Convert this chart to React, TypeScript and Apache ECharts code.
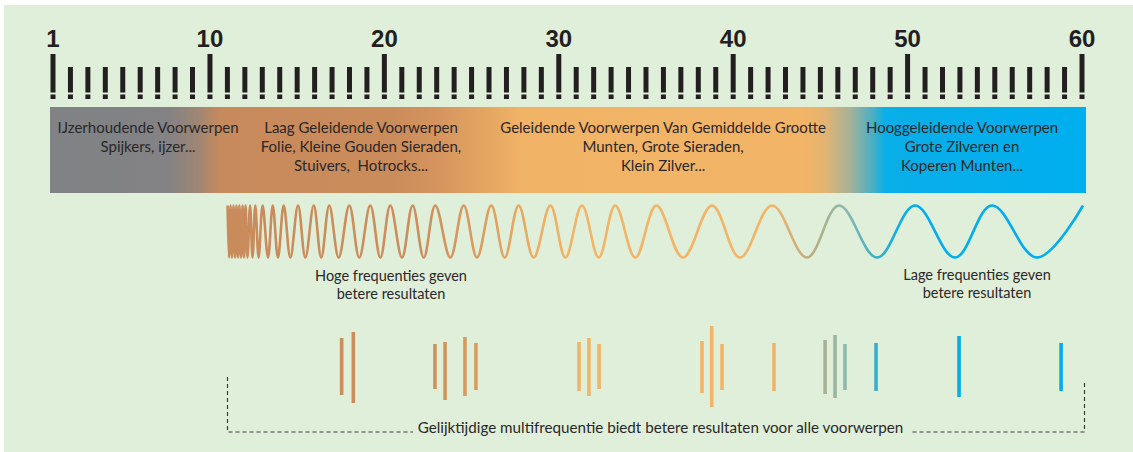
import React, { useEffect, useRef } from "react";
import * as echarts from "echarts";

// ---- data ----
const rulerTicks = [1, 2, 3, 4, 5, 6, 7, 8, 9, 10, 11, 12, 13, 14, 15, 16, 17, 18, 19, 20, 21, 22, 23, 24, 25, 26, 27, 28, 29, 30, 31, 32, 33, 34, 35, 36, 37, 38, 39, 40, 41, 42, 43, 44, 45, 46, 47, 48, 49, 50, 51, 52, 53, 54, 55, 56, 57, 58, 59, 60];
const rulerLabels = [1, 10, 20, 30, 40, 50, 60];

const bandRange = [0.83, 60.23];
const bandLabelX = [6.45, 18.66, 35.98, 53.12];
const bandLabelText = [
  "IJzerhoudende Voorwerpen\nSpijkers, ijzer...",
  "Laag Geleidende Voorwerpen\nFolie, Kleine Gouden Sieraden,\nStuivers,  Hotrocks...",
  "Geleidende Voorwerpen Van Gemiddelde Grootte\nMunten, Grote Sieraden,\nKlein Zilver...",
  "Hooggeleidende Voorwerpen\nGrote Zilveren en\nKoperen Munten...",
];

// wave extremes (ruler units) and their sign (+1 crest, -1 trough)
const waveX = [11.01, 11.09, 11.18, 11.26, 11.35, 11.44, 11.52, 11.61, 11.69, 11.78, 11.87, 11.95, 12.04, 12.15, 12.3, 12.44, 12.6, 12.79, 13.02, 13.33, 13.6, 13.9, 14.23, 14.61, 15.05, 15.47, 15.95, 16.38, 16.84, 17.38, 17.99, 18.56, 19.19, 19.77, 20.34, 21.01, 21.62, 22.26, 22.92, 23.78, 24.55, 25.31, 26.13, 26.9, 27.7, 28.56, 29.52, 30.38, 31.33, 32.29, 33.24, 34.39, 35.6, 37.12, 38.79, 40.39, 42.23, 44.23, 46.07, 48.25, 50.43, 52.72, 54.84, 57.42, 60.06];
const waveY = [1, -1, 1, -1, 1, -1, 1, -1, 1, -1, 1, -1, 1, -1, 1, -1, 1, -1, 1, -1, 1, -1, 1, -1, 1, -1, 1, -1, 1, -1, 1, -1, 1, -1, 1, -1, 1, -1, 1, -1, 1, -1, 1, -1, 1, -1, 1, -1, 1, -1, 1, -1, 1, -1, 1, -1, 1, -1, 1, -1, 1, -1, 1, -1, 1];

// simultaneous multi-frequency lines
const barX = [17.55, 18.22, 22.9, 23.48, 24.62, 25.25, 31.16, 31.73, 32.31, 38.21, 38.77, 39.36, 42.34, 45.27, 45.84, 46.41, 48.19, 52.95, 58.8];
const barTop = [29, 35, 23, 25, 30, 24, 25, 29, 23, 26, 41, 23, 24, 27, 32, 23, 24, 31, 24];
const barBottom = [-28, -36, -22, -33, -29, -23, -24, -29, -22, -26, -40, -23, -24, -27, -31, -23, -24, -30, -24];

// ---- styles ----
const INK = "#231f20";
const TEXT = "#2b2728";
const BG = "#e0efda";
const FONT = "Lato, 'Open Sans', sans-serif";

const bandStops: [number, string][] = [
  [0.83, "#808285"],
  [7.6, "#838284"],
  [9.3, "#9e8674"],
  [10.6, "#c78a5c"],
  [20.6, "#cb8c5b"],
  [23.2, "#d6955e"],
  [26.1, "#e6a763"],
  [27.8, "#f1b366"],
  [44.1, "#f2b467"],
  [45.3, "#e2b473"],
  [46.7, "#a6b298"],
  [48.0, "#4aafc4"],
  [48.7, "#0aaee8"],
  [60.23, "#00aeef"],
];

const markStops: [number, string][] = [
  [11, "#c98b5b"],
  [22, "#cc8e5b"],
  [25, "#d89b5e"],
  [29, "#ecaf64"],
  [31, "#f2b466"],
  [42.3, "#f2b466"],
  [44.2, "#c2ad80"],
  [45.5, "#a2b396"],
  [46.4, "#8cb8ae"],
  [48.2, "#38afc9"],
  [50.2, "#00adee"],
  [61, "#00adee"],
];

function hexToRgb(h: string) {
  const n = parseInt(h.slice(1), 16);
  return [(n >> 16) & 255, (n >> 8) & 255, n & 255];
}
function colorAt(stops: [number, string][], u: number) {
  if (u <= stops[0][0]) return stops[0][1];
  for (let i = 1; i < stops.length; i++) {
    if (u <= stops[i][0]) {
      const t = (u - stops[i - 1][0]) / (stops[i][0] - stops[i - 1][0]);
      const a = hexToRgb(stops[i - 1][1]);
      const b = hexToRgb(stops[i][1]);
      const c = a.map((v, k) => Math.round(v + (b[k] - v) * t));
      return `rgb(${c[0]},${c[1]},${c[2]})`;
    }
  }
  return stops[stops.length - 1][1];
}
function ratioStops(stops: [number, string][], u0: number, u1: number) {
  return stops.map(([u, c]) => ({
    offset: Math.min(1, Math.max(0, (u - u0) / (u1 - u0))),
    color: c,
  }));
}

const GRID_L = 35.56;
const GRID_R = 33.56;

function textStyle(text: string, size: number, lineHeight: number, vAlign: string) {
  return {
    text,
    fill: TEXT,
    fontSize: size,
    fontFamily: FONT,
    lineHeight,
    align: "center",
    textAlign: "center",
    verticalAlign: vAlign,
    textVerticalAlign: vAlign,
  };
}

export default function App() {
  const ref = useRef<HTMLDivElement>(null);
  useEffect(() => {
    const chart = echarts.init(ref.current!, null, { renderer: "svg" });
    const w0 = waveX[0];
    const w1 = waveX[waveX.length - 1];
    const option: any = {
      animation: false,
      backgroundColor: "#ffffff",
      grid: [
        { left: GRID_L, right: GRID_R, top: 54, height: 139 },
        { left: GRID_L, right: GRID_R, top: 205.5, height: 52 },
        { left: GRID_L, right: GRID_R, top: 322, height: 90 },
      ],
      xAxis: [
        {
          gridIndex: 0,
          type: "value",
          min: 0,
          max: 61,
          position: "top",
          axisLine: { show: false },
          axisTick: { show: false },
          splitLine: { show: false },
          axisLabel: {
            customValues: rulerLabels,
            fontSize: 24,
            fontWeight: "bold",
            fontFamily: "'Liberation Sans', Arial, sans-serif",
            color: INK,
            margin: 16,
            verticalAlign: "middle",
          },
        },
        { gridIndex: 1, type: "value", min: 0, max: 61, show: false },
        { gridIndex: 2, type: "value", min: 0, max: 61, show: false },
      ],
      yAxis: [
        { gridIndex: 0, type: "value", min: 0, max: 1, show: false },
        { gridIndex: 1, type: "value", min: -1, max: 1, show: false },
        { gridIndex: 2, type: "value", min: -45, max: 45, show: false },
      ],
      graphic: [
        {
          type: "rect",
          z: -10,
          silent: true,
          shape: { x: 4, y: 5, width: 1129, height: 447 },
          style: { fill: BG },
        },
        {
          type: "text",
          z: 100,
          x: 391,
          y: 266.5,
          style: textStyle("Hoge frequenties geven\nbetere resultaten", 14.5, 18, "top"),
        },
        {
          type: "text",
          z: 100,
          x: 977,
          y: 265.5,
          style: textStyle("Lage frequenties geven\nbetere resultaten", 14.5, 18, "top"),
        },
        {
          type: "text",
          z: 100,
          x: 660.5,
          y: 426.5,
          style: textStyle(
            "Gelijktijdige multifrequentie biedt betere resultaten voor alle voorwerpen",
            15.2,
            18,
            "middle"
          ),
        },
        {
          type: "polyline",
          z: 100,
          shape: { points: [[227.5, 377], [227.5, 432], [413, 432]] },
          style: { stroke: "#3a3a3a", lineWidth: 1.2, lineDash: [4, 3], fill: null },
        },
        {
          type: "polyline",
          z: 100,
          shape: { points: [[1084.5, 383], [1084.5, 432], [912, 432]] },
          style: { stroke: "#3a3a3a", lineWidth: 1.2, lineDash: [4, 3], fill: null },
        },
      ],
      series: [
        {
          type: "custom",
          name: "band",
          xAxisIndex: 0,
          yAxisIndex: 0,
          silent: true,
          z: 1,
          data: [[bandRange[0], bandRange[1]]],
          encode: { x: [0, 1] },
          renderItem: (params: any, api: any) => {
            const a = api.coord([api.value(0), 0]);
            const b = api.coord([api.value(1), 0]);
            return {
              type: "rect",
              shape: { x: a[0], y: 107, width: b[0] - a[0], height: 86 },
              style: {
                fill: new echarts.graphic.LinearGradient(
                  0, 0, 1, 0,
                  ratioStops(bandStops, bandRange[0], bandRange[1])
                ),
              },
            };
          },
        },
        {
          type: "custom",
          name: "bandLabels",
          xAxisIndex: 0,
          yAxisIndex: 0,
          silent: true,
          z: 3,
          data: bandLabelX.map((x) => [x, 0]),
          encode: { x: 0, y: 1 },
          renderItem: (params: any, api: any) => {
            const p = api.coord([api.value(0), 0]);
            return {
              type: "text",
              x: p[0],
              y: 117,
              style: textStyle(bandLabelText[params.dataIndex], 15, 19, "top"),
            };
          },
        },
        {
          type: "custom",
          name: "ruler",
          xAxisIndex: 0,
          yAxisIndex: 0,
          silent: true,
          z: 2,
          data: rulerTicks.map((t) => [t, 0]),
          encode: { x: 0, y: 1 },
          renderItem: (params: any, api: any) => {
            const u = api.value(0);
            const x = api.coord([u, 0])[0];
            const top = rulerLabels.indexOf(u) >= 0 ? 54 : 67;
            return {
              type: "group",
              children: [
                { type: "rect", shape: { x: x - 2.5, y: top, width: 5, height: 92.5 - top }, style: { fill: INK } },
                { type: "rect", shape: { x: x - 2.5, y: 94.5, width: 5, height: 4.5 }, style: { fill: INK } },
              ],
            };
          },
        },
        {
          type: "line",
          name: "wave",
          xAxisIndex: 1,
          yAxisIndex: 1,
          silent: true,
          clip: false,
          smooth: 0.36,
          symbol: "none",
          data: waveX.map((x, i) => [x, waveY[i]]),
          lineStyle: {
            width: 2.6,
            color: new echarts.graphic.LinearGradient(0, 0, 1, 0, ratioStops(markStops, w0, w1)),
          },
        },
        {
          type: "custom",
          name: "multi",
          xAxisIndex: 2,
          yAxisIndex: 2,
          silent: true,
          data: barX.map((x, i) => [x, barTop[i], barBottom[i]]),
          encode: { x: 0, y: [1, 2] },
          renderItem: (params: any, api: any) => {
            const u = api.value(0);
            const p1 = api.coord([u, api.value(1)]);
            const p2 = api.coord([u, api.value(2)]);
            return {
              type: "rect",
              shape: { x: p1[0] - 1.8, y: p1[1], width: 3.6, height: p2[1] - p1[1] },
              style: { fill: colorAt(markStops, u) },
            };
          },
        },
      ],
    };
    chart.setOption(option);
    return () => chart.dispose();
  }, []);
  return (
    <div
      ref={ref}
      style={{ position: "fixed", left: 0, top: 0, width: 1133, height: 452 }}
    />
  );
}
